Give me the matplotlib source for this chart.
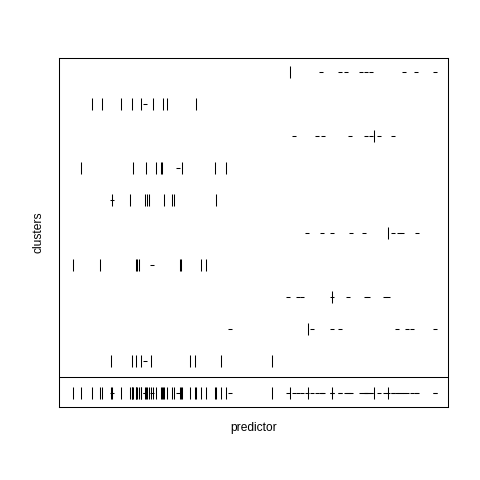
import numpy as np
import matplotlib
matplotlib.use("Agg")
import matplotlib.pyplot as plt

# predictor values per cluster (top row first), split by mark type
bar_values = [
    [289.7],
    [91.7, 102.3, 120.7, 132.3, 141.3, 153.0, 163.0, 167.3, 196.3],
    [374.0],
    [81.3, 133.0, 146.3, 155.7, 161.3, 162.3, 181.7, 214.7, 225.7],
    [112.3, 129.7, 145.0, 147.0, 149.0, 164.3, 171.7, 173.7, 215.7],
    [388.3],
    [73.3, 99.7, 135.7, 137.3, 139.0, 179.7, 180.7, 200.7, 205.7],
    [332.3],
    [308.3],
    [111.3, 131.7, 136.3, 140.7, 150.7, 189.7, 195.0, 221.3, 272.3],
]
dash_values = [
    [321.0, 340.0, 346.0, 361.0, 366.0, 371.0, 404.0, 416.0, 435.0],
    [144.7],
    [294.0, 317.3, 323.0, 350.0, 366.3, 371.3, 379.0, 393.0],
    [178.0],
    [112.3],
    [307.3, 322.3, 332.3, 350.7, 364.0, 393.3, 398.7, 402.0, 416.7],
    [152.3],
    [287.7, 297.7, 302.3, 332.3, 347.7, 366.0, 368.5, 385.5, 388.0],
    [230.0, 312.3, 332.3, 339.7, 396.7, 407.3, 412.3, 434.7],
    [144.7],
]

n_rows = len(bar_values)

fig = plt.figure(figsize=(4.8, 4.8), dpi=100)
ax = fig.add_axes([59 / 480, 73 / 480, 389 / 480, 349 / 480])

bar_style = dict(marker="|", linestyle="none", color="black",
                 markersize=8.6, markeredgewidth=0.75)
dash_style = dict(marker="_", linestyle="none", color="black",
                  markersize=2.6, markeredgewidth=0.75)

# -- one row per cluster -------------------------------------------
for i in range(n_rows):
    y = n_rows - i
    ax.plot(bar_values[i], [y] * len(bar_values[i]), **bar_style)
    ax.plot(dash_values[i], [y] * len(dash_values[i]), **dash_style)

# -- pooled row at the bottom --------------------------------------
all_bars = np.concatenate(bar_values)
all_dashes = np.concatenate(dash_values)
ax.plot(all_bars, np.zeros_like(all_bars), **bar_style)
ax.plot(all_dashes, np.zeros_like(all_dashes), **dash_style)
ax.axhline(0.5, color="black", linewidth=0.75)

ax.set_xlim(59, 448)
ax.set_ylim(-0.44, n_rows + 0.44)
ax.set_xticks([])
ax.set_yticks([])
for sp in ax.spines.values():
    sp.set_linewidth(0.75)
    sp.set_color("black")

fig.text(253.5 / 480, 1 - 428 / 480, "predictor", ha="center", va="center",
         fontsize=8.64, family="Liberation Sans")
fig.text(38 / 480, 1 - 232.5 / 480, "clusters", ha="center", va="center",
         rotation=90, fontsize=8.64, family="Liberation Sans")

fig.savefig("out.png", dpi=100)
